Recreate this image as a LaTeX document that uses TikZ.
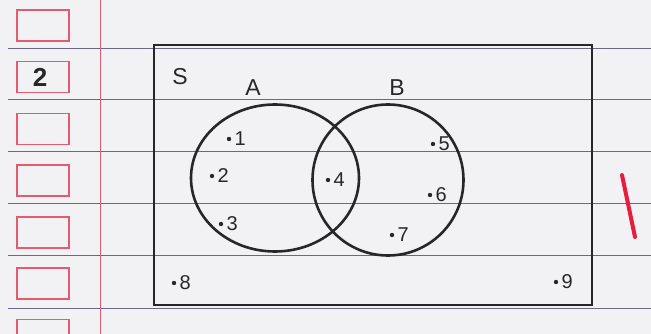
\documentclass[tikz,border=0pt]{standalone}
\usepackage{fontspec}
\setmainfont{Liberation Sans}
\usepackage{tikz}
\usetikzlibrary{shapes.geometric}

\definecolor{paper}{RGB}{242,242,245}
\definecolor{ruleblue}{RGB}{105,105,135}
\definecolor{marginred}{RGB}{228,90,115}
\definecolor{penred}{RGB}{232,28,62}
\definecolor{ink}{RGB}{40,38,40}

\begin{document}
\begin{tikzpicture}[
            x=1pt, y=-1pt,
            rule/.style    ={draw=ruleblue, line width=0.8pt},
            margin/.style  ={draw=marginred, line width=1pt},
            markbox/.style ={rectangle, draw=marginred, line width=1.3pt,
                             minimum width=52pt, minimum height=31pt, inner sep=0pt},
            universe/.style={rectangle, draw=ink, line width=2.8pt,
                             minimum width=438pt, minimum height=260pt},
            setring/.style ={ellipse, draw=ink, line width=2.6pt, inner sep=0pt},
            elem/.style    ={circle, fill=ink, inner sep=0pt, minimum size=4.4pt},
            setname/.style ={font=\fontsize{23}{25}\selectfont, text=ink},
            num/.style     ={font=\fontsize{20}{22}\selectfont, text=ink, inner sep=1pt},
            tick/.style    ={draw=penred, line width=4pt, line cap=round}
        ]
        \useasboundingbox (0,0) rectangle (651,334);
        \fill[paper] (0,0) rectangle (651,334);

        % paper
        \foreach \y in {48,99,151,203,255,308}
            \draw[rule] (8,\y) -- (651,\y);
        \draw[margin] (100,0) -- (100,334);
        \foreach \y [count=\i] in {25.5,77,129,180.5,232.5,283.5,335}
            \node[markbox] (box\i) at (43,\y) {};
        \node[font=\fontsize{26}{28}\selectfont\bfseries, text=ink] (qnum) at (40,77) {2};

        % universal set and the two sets
        \node[universe] (S) at (373,175) {};
        \node[setname] (lblS) at (180,77) {S};
        \node[setring, minimum width=168pt, minimum height=147pt] (A) at (275,178) {};
        \node[setring, minimum width=151pt, minimum height=151pt] (B) at (388,180) {};
        \node[setname] (lblA) at (253,88) {A};
        \node[setname] (lblB) at (397,88) {B};

        % elements
        \foreach \n/\x/\y in {1/229/139, 2/212/176, 3/221/224, 4/328/180, 5/433/144,
                              6/430/195, 7/392/235, 8/174/283, 9/556/282}
            \node[elem, label={[num, label distance=2pt]right:\n}] (e\n) at (\x,\y) {};

        % mark
        \draw[tick] (622,175) -- (635,237);
        \end{tikzpicture}
\end{document}
